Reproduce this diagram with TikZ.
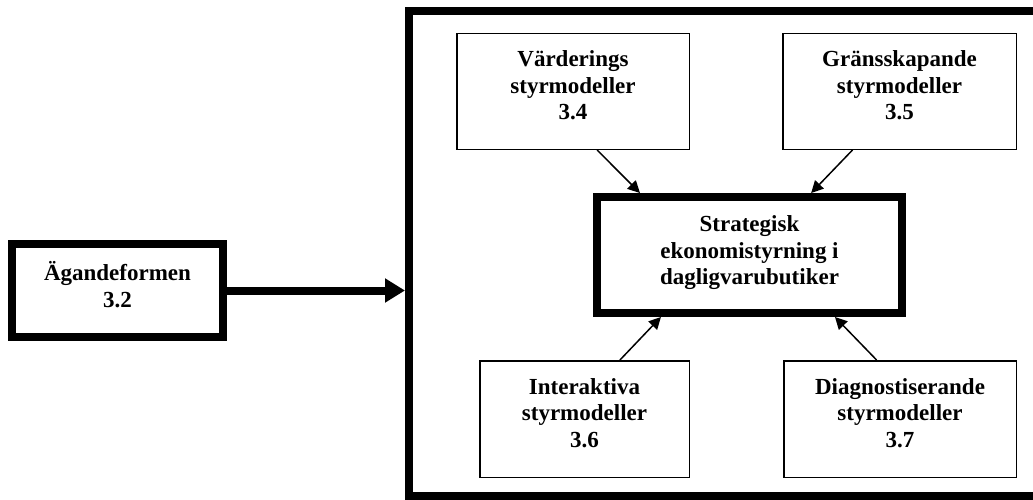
\documentclass[tikz,border=0pt]{standalone}
\usepackage{fontspec}
\setmainfont{Liberation Serif}
\usetikzlibrary{arrows.meta,calc}
\tikzset{
  thickbox/.style={draw=black, line width=8pt, fill=white, inner sep=0pt},
  thinbox/.style={draw=black, line width=1.5pt, fill=white, inner sep=0pt},
  boxtext/.style={font=\fontsize{23}{26.5}\selectfont\bfseries, align=center, inner sep=0pt, yshift=6pt},
  thinarrow/.style={line width=1.5pt, -{Triangle[length=12pt,width=12pt]}},
  bigarrow/.style={line width=8pt, -{Triangle[length=20pt,width=23pt]}}
}
\begin{document}
\begin{tikzpicture}[x=1pt,y=-1pt]
\useasboundingbox (0,0) rectangle (1033,500);
\clip (0,0) rectangle (1033,500);
\fill[white] (0,0) rectangle (1033,500);
% outer frame (right side runs past the picture edge)
\node[thickbox, fill=none, minimum width=651pt, minimum height=485pt] (frame) at (734.5,253.5) {};
% left box
\node[thickbox, minimum width=211pt, minimum height=93pt,
  label={[boxtext, name=ownt]center:Ägandeformen\\3.2}] (own) at (117.5,290.5) {};
% four model boxes
\node[thinbox, minimum width=232.5pt, minimum height=115.5pt,
  label={[boxtext, name=tlt]center:Värderings\\styrmodeller\\3.4}] (tl) at (573,91.5) {};
\node[thinbox, minimum width=233.5pt, minimum height=115.5pt,
  label={[boxtext, name=trt]center:Gränsskapande\\styrmodeller\\3.5}] (tr) at (899.5,91.5) {};
\node[thinbox, minimum width=209.5pt, minimum height=116.5pt,
  label={[boxtext, name=blt]center:Interaktiva\\styrmodeller\\3.6}] (bl) at (584.5,419) {};
\node[thinbox, minimum width=232.5pt, minimum height=116.5pt,
  label={[boxtext, name=brt]center:Diagnostiserande\\styrmodeller\\3.7}] (br) at (900,419) {};
% centre box
\node[thickbox, minimum width=305pt, minimum height=116pt,
  label={[boxtext, yshift=-4pt, name=ctrt]center:Strategisk\\ekonomistyrning i\\dagligvarubutiker}] (ctr) at (749.5,255) {};
% connectors
\draw[bigarrow] (own.east) -- (frame.west |- own.east);
\draw[thinarrow] ($(tl.south west)!0.603!(tl.south east)$) -- ($(ctr.north west)!0.15!(ctr.north east)$);
\draw[thinarrow] ($(tr.south west)!0.30!(tr.south east)$) -- ($(ctr.north west)!0.697!(ctr.north east)$);
\draw[thinarrow] ($(bl.north west)!0.668!(bl.north east)$) -- ($(ctr.south west)!0.217!(ctr.south east)$);
\draw[thinarrow] ($(br.north west)!0.40!(br.north east)$) -- ($(ctr.south west)!0.773!(ctr.south east)$);
\end{tikzpicture}
\end{document}
